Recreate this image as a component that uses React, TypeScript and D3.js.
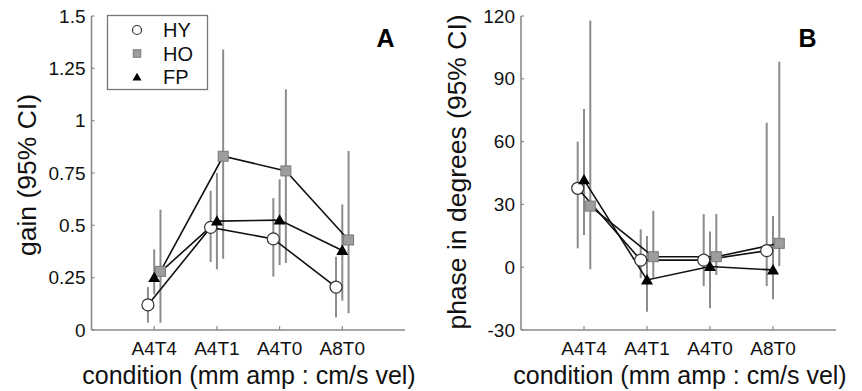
import React from "react";
import * as d3 from "d3";

const conditions = ["A4T4", "A4T1", "A4T0", "A8T0"];

const gainTicks = [0, 0.25, 0.5, 0.75, 1, 1.25, 1.5];
const gainTickLabels = ["0", "0.25", "0.5", "0.75", "1", "1.25", "1.5"];
const phaseTicks = [-30, 0, 30, 60, 90, 120];
const phaseTickLabels = ["-30", "0", "30", "60", "90", "120"];

const gainHY = [0.12, 0.49, 0.435, 0.205];
const gainHYLo = [0.035, 0.325, 0.255, 0.06];
const gainHYHi = [0.205, 0.665, 0.63, 0.35];
const gainHO = [0.28, 0.83, 0.76, 0.43];
const gainHOLo = [0.035, 0.34, 0.32, 0.08];
const gainHOHi = [0.575, 1.34, 1.15, 0.855];
const gainFP = [0.25, 0.52, 0.525, 0.38];
const gainFPLo = [0.17, 0.29, 0.31, 0.14];
const gainFPHi = [0.385, 0.75, 0.72, 0.6];

const phaseHY = [37.7, 3.4, 3.4, 7.9];
const phaseHYLo = [9, -5.2, -9, -9];
const phaseHYHi = [60, 18.1, 25.4, 69];
const phaseHO = [29.2, 5, 5, 11.4];
const phaseHOLo = [-1, -5, -3.7, 0.5];
const phaseHOHi = [117.8, 26.9, 25.4, 98.2];
const phaseFP = [41.7, -6.1, 0.3, -1.3];
const phaseFPLo = [15.4, -21.3, -19.6, -15.3];
const phaseFPHi = [75.6, 14.9, 17, 24.5];

const seriesNames = ["HY", "HO", "FP"];
const seriesOffsets = [-0.1, 0.1, 0];

const FONT = "'Liberation Sans', Arial, Helvetica, sans-serif";
const AXIS = "#8a8a8a";
const BAR = "#8c8c8c";

type Series = { name: string; offset: number; v: number[]; lo: number[]; hi: number[] };

function Marker({ name, x, y, scale = 1 }: { name: string; x: number; y: number; scale?: number }) {
  if (name === "HY")
    return <circle cx={x} cy={y} r={6 * scale} fill="#fff" stroke="#333" strokeWidth={1.2} />;
  if (name === "HO") {
    const s = 10 * scale;
    return <rect x={x - s / 2} y={y - s / 2} width={s} height={s} fill="#9d9d9d" stroke="#7a7a7a" strokeWidth={1} />;
  }
  const p = d3.symbol(d3.symbolTriangle, 62 * scale * scale)();
  return <path d={p || ""} transform={`translate(${x},${y + 1})`} fill="#000" />;
}

function Panel(props: {
  x0: number; x1: number; y0: number; y1: number;
  domain: [number, number]; ticks: number[]; tickLabels: string[];
  series: Series[]; ylabel: string; ylabelX: number; ylabelY: number;
  letter: string; letterX: number; xlabelX: number; legend?: boolean;
}) {
  const { x0, x1, y0, y1 } = props;
  const xs = d3.scaleLinear().domain([0, 5]).range([x0, x1]);
  const ys = d3.scaleLinear().domain(props.domain).range([y1, y0]);
  const line = d3.line<number>().x((_, i) => 0).y(() => 0);
  const mk = (s: Series) =>
    d3.line<number>()
      .x((_, i) => xs(i + 1 + s.offset))
      .y((d) => ys(d))(s.v) || "";
  void line;
  return (
    <g>
      {/* axes */}
      <line x1={x0} x2={x0} y1={y0} y2={y1} stroke={AXIS} strokeWidth={1.6} />
      <line x1={x0} x2={x1} y1={y1} y2={y1} stroke={AXIS} strokeWidth={1.6} />
      {props.ticks.map((t, i) => (
        <g key={"yt" + i}>
          <line x1={x0} x2={x0 + 3} y1={ys(t)} y2={ys(t)} stroke={AXIS} strokeWidth={1.2} />
          <text x={x0 - 6} y={ys(t) + 6.5} textAnchor="end" fontSize={19} fontFamily={FONT} fill="#111">
            {props.tickLabels[i]}
          </text>
        </g>
      ))}
      {conditions.map((c, i) => (
        <g key={"xt" + i}>
          <line x1={xs(i + 1)} x2={xs(i + 1)} y1={y1} y2={y1 - 4} stroke={AXIS} strokeWidth={1.2} />
          <text x={xs(i + 1)} y={355} textAnchor="middle" fontSize={19} fontFamily={FONT} fill="#111">
            {c}
          </text>
        </g>
      ))}
      {/* error bars */}
      {props.series.map((s) =>
        s.v.map((_, i) => (
          <line key={s.name + "e" + i}
            x1={xs(i + 1 + s.offset)} x2={xs(i + 1 + s.offset)}
            y1={ys(s.lo[i])} y2={ys(s.hi[i])} stroke={BAR} strokeWidth={2} />
        ))
      )}
      {/* lines */}
      {props.series.map((s) => (
        <path key={s.name + "l"} d={mk(s)} fill="none" stroke="#111" strokeWidth={1.6} />
      ))}
      {/* markers */}
      {props.series.map((s) =>
        s.v.map((d, i) => (
          <Marker key={s.name + "m" + i} name={s.name} x={xs(i + 1 + s.offset)} y={ys(d)} />
        ))
      )}
      <text transform={`translate(${props.ylabelX},${props.ylabelY}) rotate(-90)`} textAnchor="middle"
        fontSize={26.5} fontFamily={FONT} fill="#111">{props.ylabel}</text>
      <text x={props.xlabelX} y={384} textAnchor="middle" fontSize={25} fontFamily={FONT} fill="#111">
        condition (mm amp : cm/s vel)
      </text>
      <text x={props.letterX} y={47} textAnchor="middle" fontSize={25} fontWeight="bold" fontFamily={FONT} fill="#000">
        {props.letter}
      </text>
      {props.legend && (
        <g>
          <rect x={107.5} y={15.5} width={100} height={74} fill="#fff" stroke="#777" strokeWidth={1.3} />
          {seriesNames.map((n, i) => (
            <g key={"lg" + n}>
              <Marker name={n} x={137} y={30 + i * 23.5} scale={0.75} />
              <text x={163} y={30 + i * 23.5 + 7} fontSize={20} fontFamily={FONT} fill="#111">{n}</text>
            </g>
          ))}
        </g>
      )}
    </g>
  );
}

export default function App() {
  const gainSeries: Series[] = [
    { name: "HY", offset: seriesOffsets[0], v: gainHY, lo: gainHYLo, hi: gainHYHi },
    { name: "HO", offset: seriesOffsets[1], v: gainHO, lo: gainHOLo, hi: gainHOHi },
    { name: "FP", offset: seriesOffsets[2], v: gainFP, lo: gainFPLo, hi: gainFPHi },
  ];
  const phaseSeries: Series[] = [
    { name: "HY", offset: seriesOffsets[0], v: phaseHY, lo: phaseHYLo, hi: phaseHYHi },
    { name: "HO", offset: seriesOffsets[1], v: phaseHO, lo: phaseHOLo, hi: phaseHOHi },
    { name: "FP", offset: seriesOffsets[2], v: phaseFP, lo: phaseFPLo, hi: phaseFPHi },
  ];
  return (
    <svg width={862} height={391} style={{ position: "absolute", left: 0, top: 0, background: "#fff" }}>
      <rect width={862} height={391} fill="#fff" />
      <Panel x0={91.5} x1={405} y0={16} y1={330} domain={[0, 1.5]} ticks={gainTicks} tickLabels={gainTickLabels}
        series={gainSeries} ylabel="gain (95% CI)" ylabelX={36} ylabelY={175}
        letter="A" letterX={385.5} xlabelX={249} legend />
      <Panel x0={521} x1={836} y0={16} y1={330} domain={[-30, 120]} ticks={phaseTicks} tickLabels={phaseTickLabels}
        series={phaseSeries} ylabel="phase in degrees (95% CI)" ylabelX={466} ylabelY={172}
        letter="B" letterX={807.5} xlabelX={680} />
    </svg>
  );
}
